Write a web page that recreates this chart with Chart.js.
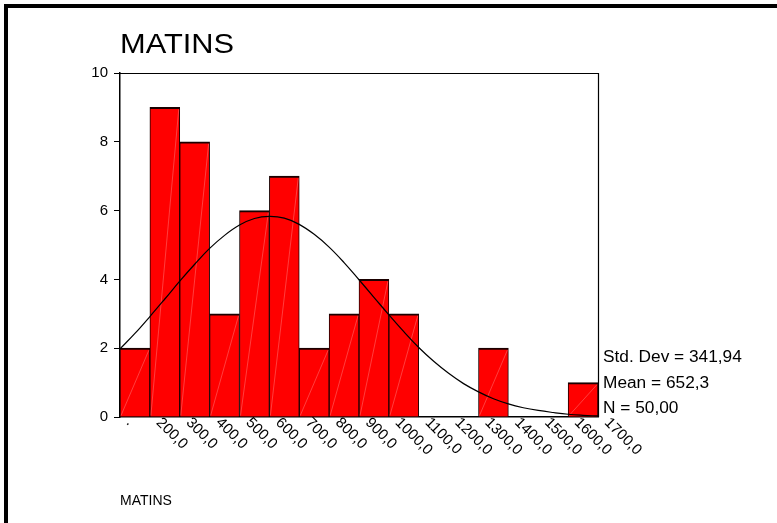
<!DOCTYPE html>
<html>
<head>
<meta charset="utf-8">
<script src="https://cdn.jsdelivr.net/npm/chart.js@4/dist/chart.umd.min.js"></script>
<style>
  html, body { margin: 0; padding: 0; background: #fff; }
  #wrap { position: relative; width: 777px; height: 523px; overflow: hidden; }
  #frame { position: absolute; left: 4px; top: 4px; width: 780px; height: 530px;
           border-top: 4px solid #000; border-left: 4px solid #000; pointer-events: none; }
  canvas { position: absolute; left: 0; top: 0; }
</style>
</head>
<body>
<div id="wrap">
  <canvas id="c" width="777" height="523"></canvas>
  <div id="frame"></div>
</div>
<script>
// ---- data ----
const chartTitle = "MATINS";
const axisTitle = "MATINS";
const binMidpoints = [100, 200, 300, 400, 500, 600, 700, 800, 900, 1000, 1100, 1200, 1300, 1400, 1500, 1600];
const counts =       [2,   9,   8,   3,   6,   7,   2,   3,   4,   3,    0,    0,    2,    0,    0,    1];
const tickValues = [100, 200, 300, 400, 500, 600, 700, 800, 900, 1000, 1100, 1200, 1300, 1400, 1500, 1600, 1700];
const tickLabels = [".", "200,0", "300,0", "400,0", "500,0", "600,0", "700,0", "800,0", "900,0", "1000,0",
                    "1100,0", "1200,0", "1300,0", "1400,0", "1500,0", "1600,0", "1700,0"];
const yTicks = [0, 2, 4, 6, 8, 10];
// normal curve at half-bin steps
const curveX = [50, 100, 150, 200, 250, 300, 350, 400, 450, 500, 550, 600, 650, 700, 750, 800, 850,
                900, 950, 1000, 1050, 1100, 1150, 1200, 1250, 1300, 1350, 1400, 1450, 1500, 1550, 1600, 1650];
const curveY = [1.98, 2.43, 2.92, 3.43, 3.95, 4.44, 4.90, 5.28, 5.58, 5.77, 5.83, 5.78, 5.60, 5.31, 4.94,
                4.49, 3.99, 3.48, 2.97, 2.48, 2.02, 1.62, 1.27, 0.97, 0.73, 0.53, 0.38, 0.27, 0.19, 0.13,
                0.08, 0.05, 0.03];
const statLines = ["Std. Dev = 341,94", "Mean = 652,3", "N = 50,00"];

const FONT = '"Liberation Sans", Arial, Helvetica, sans-serif';

const decoPlugin = {
  id: 'deco',
  afterDatasetDraw(chart, args) {
    if (args.index !== 0) return;
    const ctx = chart.ctx;
    const meta = chart.getDatasetMeta(0);
    ctx.save();
    ctx.strokeStyle = 'rgba(255,150,150,0.7)';
    ctx.lineWidth = 0.6;
    meta.data.forEach((bar, i) => {
      if (!counts[i]) return;
      const p = bar.getProps(['x', 'y', 'base', 'width'], true);
      const l = p.x - p.width / 2 + 1, r = p.x + p.width / 2 - 1;
      ctx.beginPath();
      ctx.moveTo(l, p.base - 1);
      ctx.lineTo(r, p.y + 2);
      ctx.stroke();
    });
    ctx.restore();
  },
  afterDraw(chart) {
    const ctx = chart.ctx;
    const a = chart.chartArea;
    const xs = chart.scales.x;
    ctx.save();
    // plot frame top and right
    ctx.strokeStyle = '#000';
    ctx.lineWidth = 1.2;
    ctx.beginPath();
    ctx.moveTo(a.left, a.top + 0.5);
    ctx.lineTo(a.right + 0.5, a.top + 0.5);
    ctx.lineTo(a.right + 0.5, a.bottom);
    ctx.stroke();

    ctx.fillStyle = '#000';
    // title
    ctx.save();
    ctx.font = '28px ' + FONT;
    ctx.textBaseline = 'alphabetic';
    ctx.translate(120, 53);
    ctx.scale(1.1, 1);
    ctx.fillText(chartTitle, 0, 0);
    ctx.restore();

    // stats
    ctx.save();
    ctx.font = '16px ' + FONT;
    const bases = [362, 388, 413];
    statLines.forEach((t, i) => {
      ctx.save();
      ctx.translate(a.right + 5, bases[i]);
      ctx.scale(1.08, 1);
      ctx.fillText(t, 0, 0);
      ctx.restore();
    });
    ctx.restore();

    // rotated x tick labels
    ctx.save();
    ctx.font = '15px ' + FONT;
    ctx.textAlign = 'left';
    ctx.textBaseline = 'top';
    tickValues.forEach((v, i) => {
      const px = xs.getPixelForValue(v);
      ctx.save();
      ctx.translate(px - 1, a.bottom - 2);
      ctx.rotate(Math.PI / 4);
      ctx.fillText(tickLabels[i], 0, 0);
      ctx.restore();
    });
    ctx.restore();

    // axis title at bottom
    ctx.font = '14px ' + FONT;
    ctx.textBaseline = 'alphabetic';
    ctx.fillText(axisTitle, 120, 505);
    ctx.restore();
  }
};

new Chart(document.getElementById('c'), {
  type: 'bar',
  data: {
    datasets: [
      {
        type: 'bar',
        data: binMidpoints.map((x, i) => ({ x: x, y: counts[i] })),
        backgroundColor: '#ff0000',
        borderColor: '#1a0000',
        borderWidth: { top: 2, left: 1, right: 1, bottom: 0 },
        borderSkipped: false,
        barPercentage: 1,
        categoryPercentage: 1,
        grouped: false,
        order: 2
      },
      {
        type: 'line',
        data: curveX.map((x, i) => ({ x: x, y: curveY[i] })),
        borderColor: '#000',
        borderWidth: 1.2,
        pointRadius: 0,
        tension: 0.4,
        fill: false,
        order: 1
      }
    ]
  },
  options: {
    responsive: false,
    animation: false,
    devicePixelRatio: 1,
    layout: { padding: { left: 80, right: 179, top: 73, bottom: 106 } },
    plugins: { legend: { display: false }, title: { display: false }, tooltip: { enabled: false } },
    scales: {
      x: {
        type: 'linear',
        min: 50, max: 1650,
        offset: false,
        grid: { display: false },
        border: { display: true, color: '#000', width: 1.5 },
        ticks: { display: false },
        afterFit(s) { s.height = 0; }
      },
      y: {
        min: 0, max: 10,
        afterBuildTicks(s) { s.ticks = yTicks.map(v => ({ value: v })); },
        ticks: { color: '#000', font: { family: FONT, size: 15 }, padding: 6 },
        grid: { display: true, drawOnChartArea: false, drawTicks: true, tickLength: 6, color: '#000', lineWidth: 1 },
        border: { display: true, color: '#000', width: 1.5 },
        afterFit(s) { s.width = 40; }
      }
    }
  },
  plugins: [decoPlugin]
});
</script>
</body>
</html>
